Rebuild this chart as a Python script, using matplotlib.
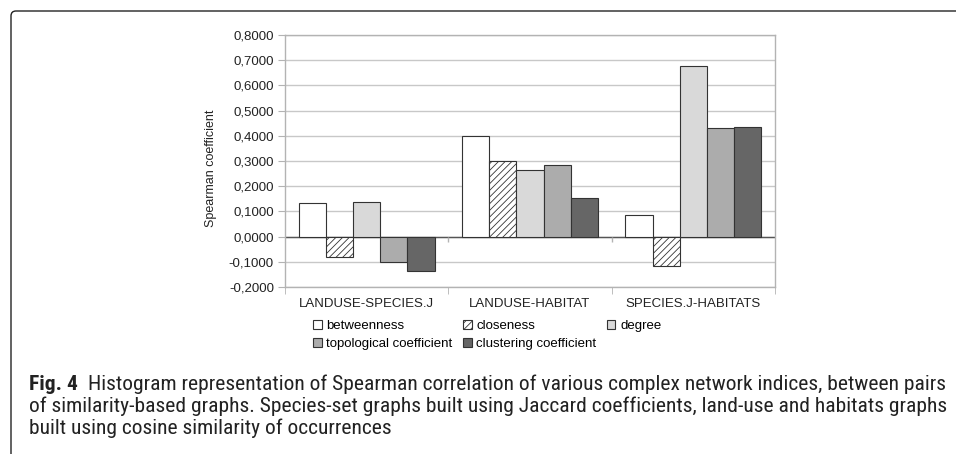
import numpy as np
import matplotlib
matplotlib.use('Agg')
import matplotlib.pyplot as plt
from matplotlib import font_manager
from matplotlib.patches import FancyBboxPatch
from matplotlib.ticker import FuncFormatter, FixedLocator

# data
pairs = ['LANDUSE-SPECIES.J', 'LANDUSE-HABITAT', 'SPECIES.J-HABITATS']
indices = ['betweenness', 'closeness', 'degree', 'topological coefficient', 'clustering coefficient']
betweenness = [0.135, 0.400, 0.087]
closeness = [-0.080, 0.299, -0.116]
degree = [0.138, 0.263, 0.677]
topological = [-0.099, 0.283, 0.431]
clustering = [-0.136, 0.154, 0.434]
series = [betweenness, closeness, degree, topological, clustering]

face = ['#ffffff', '#ffffff', '#d9d9d9', '#acacac', '#666666']
hatches = [None, '/////', None, None, None]

plt.rcParams['font.family'] = ['Liberation Sans', 'DejaVu Sans']
plt.rcParams['hatch.linewidth'] = 0.6

W, H = 956, 454
fig = plt.figure(figsize=(W / 100, H / 100), dpi=100)

# plot area in pixels: x 285..775, y 35..287
ax = fig.add_axes([285 / W, 1 - 287 / H, 490 / W, 252 / H])

n = len(series)
x = np.arange(len(pairs))
w = 1 / (n + 1)
bars = []
for i, vals in enumerate(series):
    b = ax.bar(x + (i - (n - 1) / 2) * w, vals, width=w, color=face[i],
               edgecolor='#333333', linewidth=0.8, hatch=hatches[i],
               label=indices[i], zorder=3)
    bars.append(b)

ax.set_xlim(-0.5, len(pairs) - 0.5)
ax.set_ylim(-0.2, 0.8)
ax.yaxis.set_major_locator(FixedLocator(np.arange(-0.2, 0.81, 0.1)))
ax.yaxis.set_major_formatter(FuncFormatter(lambda v, p: f'{v:.4f}'.replace('.', ',')))
ax.grid(axis='y', color='#c8c8c8', linewidth=1, zorder=0)
ax.axhline(0, color='#555555', linewidth=1, zorder=2)
ax.vlines(x[:-1] + 0.5, 0, -0.02, color='#b3b3b3', linewidth=1, zorder=2)

ax.set_xticks(x)
ax.set_xticklabels(pairs)
ax.set_xticks(np.arange(len(pairs) + 1) - 0.5, minor=True)
ax.tick_params(axis='x', which='major', length=0, pad=8, labelsize=9.5, colors='#222222')
ax.tick_params(axis='x', which='minor', length=5, color='#b3b3b3')
ax.tick_params(axis='y', length=5, color='#b3b3b3', labelsize=9.5, labelcolor='#222222', pad=3)
for s in ax.spines.values():
    s.set_color('#b3b3b3')
    s.set_linewidth(1)

ax.set_ylabel('Spearman coefficient', fontsize=9, color='#222222')
ax.yaxis.set_label_coords(-0.139, 0.47)

# legend laid out row-wise: b c d / t cl
order = [0, 3, 1, 4, 2]
leg = fig.legend([bars[i] for i in order], [indices[i] for i in order],
                 ncol=3, loc='upper left', bbox_to_anchor=(313 / W, 1 - 320 / H),
                 frameon=False, fontsize=9.5, handlelength=0.65, handleheight=0.65,
                 handletextpad=0.35, columnspacing=0.8, labelspacing=0.45,
                 borderpad=0, borderaxespad=0)

# frame around figure panel
frame = FancyBboxPatch((11 / 100, -1), 20, (H - 11) / 100 + 1,
                       boxstyle='round,pad=0,rounding_size=0.05',
                       transform=fig.dpi_scale_trans, fill=False,
                       edgecolor='#222222', linewidth=1.0)
fig.patches.append(frame)

# caption
cap_font = 'Liberation Sans'
for cand in ['Liberation Sans Narrow', 'Roboto Condensed', 'Open Sans Condensed', 'Roboto']:
    try:
        font_manager.findfont(cand, fallback_to_default=False)
        cap_font = cand
        break
    except Exception:
        pass

line1 = 'Histogram representation of Spearman correlation of various complex network indices, between pairs'
line2 = 'of similarity-based graphs. Species-set graphs built using Jaccard coefficients, land-use and habitats graphs'
line3 = 'built using cosine similarity of occurrences'

renderer = fig.canvas.get_renderer()
fs = 12
t0 = fig.text(29 / W, 1 - 390 / H, 'Fig. 4', fontsize=fs, fontweight='bold', family=cap_font, color='#222222')
t1 = fig.text(86 / W, 1 - 390 / H, line1, fontsize=fs, family=cap_font, color='#222222')
for _ in range(3):
    bb0 = t0.get_window_extent(renderer)
    x1 = bb0.x1 + 11
    t1.set_x(x1 / W)
    bb1 = t1.get_window_extent(renderer)
    fs = fs * (945 - x1) / bb1.width
    t0.set_fontsize(fs)
    t1.set_fontsize(fs)
fig.text(29 / W, 1 - 412 / H, line2, fontsize=fs, family=cap_font, color='#222222')
fig.text(29 / W, 1 - 434 / H, line3, fontsize=fs, family=cap_font, color='#222222')

fig.savefig('out.png', dpi=100)
